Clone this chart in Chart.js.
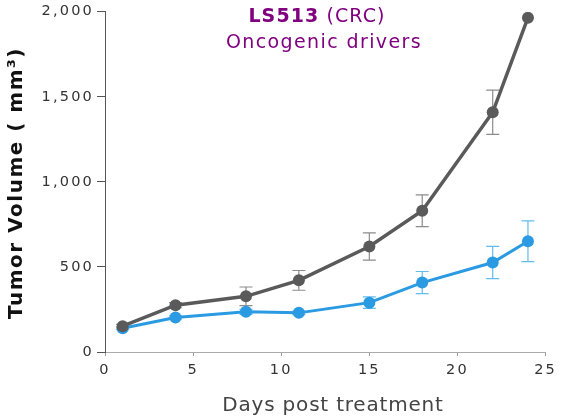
<!DOCTYPE html>
<html>
<head>
<meta charset="utf-8">
<script src="https://cdn.jsdelivr.net/npm/chart.js@4.4.1/dist/chart.umd.min.js"></script>
<style>
html,body{margin:0;padding:0;background:#fff;}
#wrap{width:563px;height:418px;position:relative;}
</style>
</head>
<body>
<div id="wrap"><canvas id="c" width="563" height="418"></canvas></div>
<script>
// ---- data ----
const days = [1, 4, 8, 11, 15, 18, 22, 24];
const controlMean = [152, 275, 327, 421, 620, 830, 1409, 1965];
const controlErr  = [10, 15, 55, 58, 80, 93, 130, 0];
const treatedMean = [140, 203, 236, 230, 290, 408, 526, 651];
const treatedErr  = [8, 10, 15, 10, 34, 65, 95, 120];
const xTicks = [0, 5, 10, 15, 20, 25];
const yTicks = [0, 500, 1000, 1500, 2000];
const titleBold = 'LS513';
const titleRest = ' (CRC)';
const subtitle = 'Oncogenic drivers';
const xTitle = 'Days post treatment';
const yTitle = 'Tumor Volume ( mm³)';

const GRAY = '#5a5a5a', GRAY_ERR = '#8c8c8c';
const BLUE = '#2a9ae2', BLUE_ERR = '#62bbef';
const PURPLE = '#800080';
const FONT = "'DejaVu Sans', Verdana, sans-serif";
const TICK_SPACING = '2.2px';

function pts(xs, ys){ return xs.map((x,i)=>({x:x, y:ys[i]})); }

const errorBars = {
  id:'errorBars',
  beforeDatasetsDraw(chart){
    const ctx = chart.ctx, xs = chart.scales.x, ys = chart.scales.y;
    const sets = [[treatedMean, treatedErr, BLUE_ERR],[controlMean, controlErr, GRAY_ERR]];
    ctx.save();
    ctx.lineWidth = 1.2;
    sets.forEach(([m,e,col])=>{
      ctx.strokeStyle = col;
      days.forEach((d,i)=>{
        if(!e[i]) return;
        const px = xs.getPixelForValue(d);
        const top = ys.getPixelForValue(m[i]+e[i]);
        const bot = ys.getPixelForValue(m[i]-e[i]);
        ctx.beginPath();
        ctx.moveTo(px, top); ctx.lineTo(px, bot);
        ctx.moveTo(px-6.5, top); ctx.lineTo(px+6.5, top);
        ctx.moveTo(px-6.5, bot); ctx.lineTo(px+6.5, bot);
        ctx.stroke();
      });
    });
    ctx.restore();
  }
};

const spacing = {
  id:'spacing',
  beforeInit(chart){ chart.ctx.letterSpacing = TICK_SPACING; },
  beforeLayout(chart){ chart.ctx.letterSpacing = TICK_SPACING; },
  beforeDraw(chart){ chart.ctx.letterSpacing = TICK_SPACING; }
};

const texts = {
  id:'texts',
  afterDraw(chart){
    const ctx = chart.ctx;
    ctx.save();
    ctx.textBaseline = 'middle';
    // title line 1 (mixed weight)
    ctx.letterSpacing = '1.1px';
    ctx.font = "bold 19px " + FONT;
    const wb = ctx.measureText(titleBold).width;
    ctx.font = "19px " + FONT;
    const wr = ctx.measureText(titleRest).width;
    const cx = 317;
    let x0 = cx - (wb+wr)/2;
    ctx.fillStyle = PURPLE;
    ctx.textAlign = 'left';
    ctx.font = "bold 19px " + FONT;
    ctx.fillText(titleBold, x0, 17);
    ctx.font = "19px " + FONT;
    ctx.fillText(titleRest, x0+wb, 17);
    ctx.letterSpacing = '1.4px';
    ctx.textAlign = 'center';
    ctx.fillText(subtitle, 324, 43);
    // x title
    ctx.letterSpacing = '0.8px';
    ctx.fillStyle = '#444';
    ctx.font = "20px " + FONT;
    ctx.fillText(xTitle, 333, 406);
    // y title
    ctx.letterSpacing = '1.5px';
    ctx.translate(17, 183);
    ctx.rotate(-Math.PI/2);
    ctx.fillStyle = '#111';
    ctx.font = "bold 20px " + FONT;
    ctx.fillText(yTitle, 0, 0);
    ctx.restore();
  }
};

new Chart(document.getElementById('c'), {
  type:'line',
  data:{
    datasets:[
      { label:'Control', data:pts(days, controlMean), borderColor:GRAY, backgroundColor:GRAY,
        borderWidth:3.5, pointRadius:6, pointHoverRadius:6, pointBorderWidth:0, tension:0 },
      { label:'Treated', data:pts(days, treatedMean), borderColor:BLUE, backgroundColor:BLUE,
        borderWidth:3, pointRadius:6, pointHoverRadius:6, pointBorderWidth:0, tension:0 }
    ]
  },
  options:{
    responsive:false,
    animation:false,
    devicePixelRatio:1,
    layout:{ padding:{ top:10, right:17, left:0, bottom:0 } },
    plugins:{ legend:{display:false}, title:{display:false}, tooltip:{enabled:false} },
    scales:{
      x:{
        type:'linear', min:0, max:25,
        afterFit(s){ s.height = 66; },
        afterBuildTicks(s){ s.ticks = xTicks.map(v=>({value:v})); },
        grid:{ display:true, drawOnChartArea:false, drawTicks:true, tickLength:4, color:'#999' },
        border:{ display:true, color:'#aaa', width:1 },
        ticks:{ color:'#333', font:{ family:FONT, size:14.5 }, padding:6, maxRotation:0 }
      },
      y:{
        min:0, max:2000,
        afterFit(s){ s.width = 105; },
        afterBuildTicks(s){ s.ticks = yTicks.map(v=>({value:v})); },
        grid:{ display:true, drawOnChartArea:false, drawTicks:true, tickLength:8, color:'#555' },
        border:{ display:true, color:'#555', width:1 },
        ticks:{ color:'#333', font:{ family:FONT, size:14.5 }, padding:3,
          callback:(v)=>v.toLocaleString('en-US') }
      }
    }
  },
  plugins:[spacing, errorBars, texts]
});
</script>
</body>
</html>
